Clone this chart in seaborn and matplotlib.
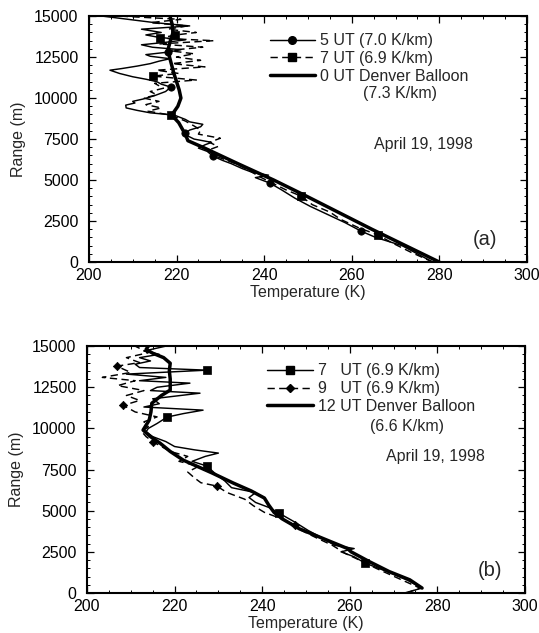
import pandas as pd
import seaborn as sns
import matplotlib
matplotlib.use("Agg")
import matplotlib.pyplot as plt
from matplotlib.lines import Line2D
from matplotlib.ticker import MultipleLocator

# ---------------- Panel (a): April 19, 1998 ----------------
a_balloon_R = [0, 1000, 2000, 3000, 4000, 5000, 6000, 7000, 7400, 7600, 7930, 8500,
               8960, 9500, 10000, 10500, 11000, 11500, 12000, 12500, 13000, 13500,
               14000, 14500, 15000]
a_balloon_T = [280, 272.3, 264.6, 257.2, 249.8, 242.2, 234, 226, 222.6, 222.3, 221.7,
               220.5, 218.9, 220.3, 221, 220.6, 220, 219.4, 218.9, 218.4, 218.1,
               218.6, 219.2, 219, 218.5]

a_ut5_R = [0, 500, 1000, 1500, 1890, 2400, 2900, 3400, 3900, 4400, 4817, 5150, 5300,
           5450, 5700, 6000, 6200, 6460, 6750, 6950, 7150, 7300, 7500, 7700, 7860,
           8050, 8250, 8400, 8550, 8700, 8960, 9100, 9250, 9400, 9570, 9700, 9800,
           9950, 10150, 10400, 10670, 10850, 11000, 11150, 11300, 11500, 11700,
           11800, 11950, 12100, 12250, 12400, 12550, 12650, 12800, 12950, 13100,
           13250, 13400, 13550, 13700, 13850, 14000, 14200, 14400, 14600, 14800,
           15000]
a_ut5_T = [278.5, 275, 271.5, 265.5, 262.1, 258.5, 254.5, 250.5, 247, 244, 241.3,
           238, 241, 237.5, 235, 232.5, 230.5, 228.3, 227, 225, 226.5, 228, 224,
           222.5, 222, 223, 225.5, 226, 223, 222, 219.5, 214, 211, 208.5, 208.4,
           210.5, 210, 212.5, 215, 217.5, 218.7, 216.5, 215.5, 213, 210, 207, 204.8,
           207.5, 211, 214, 216, 218.5, 214, 213, 218, 221, 214.5, 212, 217.5, 222,
           216, 213, 216.5, 212, 223, 215, 209, 203]
a_ut5_marks = [1890, 4817, 6460, 7860, 10670, 12800]

a_ut7_R = [0, 600, 1200, 1650, 2100, 2600, 3050, 3500, 4024, 4400, 4800, 5200, 5600,
           6000, 6400, 6800, 7050, 7300, 7550, 7800, 8050, 8300, 8600, 8960, 9200,
           9400, 9600, 9800, 10000, 10200, 10400, 10600, 10900, 11100, 11340, 11500,
           11700, 11900, 12100, 12300, 12500, 12700, 12900, 13100, 13300, 13500,
           13650, 13840, 14000, 14200, 14400, 14600, 14800, 15000]
a_ut7_T = [278.5, 273.5, 269, 266, 261.5, 257.5, 255, 251, 248.4, 245, 242, 239,
           236.5, 233.5, 229.5, 227, 229.5, 227.5, 230, 225, 225.5, 224, 222, 218.7,
           213.5, 216.5, 213, 216, 212.5, 215.5, 214, 217, 215, 224.5, 214.6, 220.5,
           215.5, 226.5, 219, 225.5, 220, 224, 218, 226, 216, 228.5, 216.2, 219.6,
           224.5, 218, 222.5, 214, 221, 207]
a_ut7_marks = [1650, 4024, 8960, 11340, 13650, 13840]

# ---------------- Panel (b): April 19, 1998 ----------------
b_balloon_R = [300, 800, 1300, 1900, 2500, 2700, 3300, 3900, 4500, 4900, 5340, 5770,
               6200, 6680, 7300, 8070, 8600, 9100, 9500, 9900, 10500, 11000, 11530,
               12000, 12330, 13000, 13500, 13960, 14300, 14570, 14800, 15000]
b_balloon_T = [276.5, 273.7, 269, 264.5, 260.3, 259.5, 254, 248.5, 244.6, 242.7,
               241.5, 240.5, 237.5, 233.4, 228.5, 222, 219, 216.7, 214.5, 212.8,
               214.2, 214.6, 214.8, 217, 219, 219, 218.8, 219, 217.5, 215, 213.5, 214]

b_ut7_R = [0, 300, 800, 1300, 1820, 2200, 2500, 2700, 2900, 3300, 3800, 4300, 4860,
           5200, 5500, 5800, 6100, 6400, 6800, 7200, 7710, 8000, 8300, 8500, 8700,
           8900, 9200, 9500, 9800, 10000, 10300, 10690, 10900, 11110, 11300, 11500,
           11800, 12140, 12300, 12500, 12750, 12900, 13100, 13300, 13540, 13700,
           13900, 14100, 14300, 14500, 14700, 15000]
b_ut7_T = [272.5, 276.5, 273, 268.5, 263.5, 261, 258, 261, 256.5, 254, 250.5, 247.5,
           243.8, 241.5, 238.5, 237, 238.5, 233, 231.5, 229.5, 227.4, 224, 227, 230,
           224.5, 220, 218, 215, 213.5, 214, 216, 218.3, 222, 226.5, 213, 216.5, 215,
           225.8, 214.5, 216, 223.5, 212, 218, 209, 227.4, 212, 211, 214.5, 212,
           216.5, 213, 218]
b_ut7_marks = [1820, 4860, 7710, 10690, 13540]

b_ut9_R = [0, 300, 900, 1500, 1900, 2400, 2900, 3400, 3800, 4130, 4500, 4900, 5300,
           5700, 6100, 6500, 6700, 7000, 7350, 7700, 8000, 8300, 8600, 8900, 9200,
           9500, 9800, 10100, 10400, 10700, 11000, 11400, 11700, 12000, 12300, 12600,
           12900, 13100, 13400, 13780, 14000, 14300, 14600, 15000]
b_ut9_T = [273, 276, 271, 266, 263, 259, 256, 252, 249, 247.5, 244.5, 240.5, 238,
           236, 232, 229.6, 226, 224.5, 223, 225.5, 221, 223, 219, 217, 215, 213.5,
           212.5, 214, 213, 216, 211, 208.3, 212, 209, 213, 207, 211, 203.5, 210,
           206.8, 212, 209, 214, 211]
b_ut9_marks = [4130, 6500, 9200, 11400, 13780]

a_labels = ["5 UT (7.0 K/km)", "7 UT (6.9 K/km)", "0 UT Denver Balloon"]
a_rate_note = "(7.3 K/km)"
b_labels = ["7   UT (6.9 K/km)", "9   UT (6.9 K/km)", "12 UT Denver Balloon"]
b_rate_note = "(6.6 K/km)"
date_text = "April 19, 1998"

sns.set_theme(style="ticks")
plt.rcParams["font.family"] = ["Liberation Sans", "DejaVu Sans"]
FS = 11.5

THIN = 1.05
THICK = 2.5
DASH = (0, (5, 3))


def profile(ax, T, R, lw, ls="-"):
    df = pd.DataFrame({"T": T, "R": R})
    sns.lineplot(data=df, x="T", y="R", sort=False, estimator=None, color="black",
                 lw=lw, linestyle=ls, ax=ax)
    return df


def marks(ax, df, which, marker, size):
    sub = df[df["R"].isin(which)]
    sns.scatterplot(data=sub, x="T", y="R", marker=marker, s=size, color="black",
                    edgecolor="black", linewidth=0.5, ax=ax, zorder=5)


def style_axes(ax):
    ax.set_xlim(200, 300)
    ax.set_ylim(0, 15000)
    ax.xaxis.set_major_locator(MultipleLocator(20))
    ax.xaxis.set_minor_locator(MultipleLocator(5))
    ax.yaxis.set_major_locator(MultipleLocator(2500))
    ax.yaxis.set_minor_locator(MultipleLocator(500))
    ax.tick_params(which="both", direction="in", top=True, right=True,
                   colors="black", labelsize=FS)
    ax.tick_params(which="major", length=5, width=0.9)
    ax.tick_params(which="minor", length=2.5, width=0.7)
    ax.tick_params(axis="x", pad=4.5)
    ax.tick_params(axis="y", pad=7.5)
    for s in ax.spines.values():
        s.set_visible(True)
        s.set_linewidth(1.5)
        s.set_color("black")
    ax.set_xlabel("Temperature (K)", fontsize=FS, labelpad=1)
    ax.set_ylabel("Range (m)", fontsize=FS, labelpad=6)


fig = plt.figure(figsize=(5.39, 6.33), dpi=100)
ax_a = fig.add_axes([0.165, 0.586, 0.8126, 0.3886])
ax_b = fig.add_axes([0.1614, 0.0632, 0.8126, 0.390])

# ---- panel (a) ----
df5 = profile(ax_a, a_ut5_T, a_ut5_R, THIN)
df7 = profile(ax_a, a_ut7_T, a_ut7_R, THIN, DASH)
profile(ax_a, a_balloon_T, a_balloon_R, THICK)
marks(ax_a, df5, a_ut5_marks, "o", 28)
marks(ax_a, df7, a_ut7_marks, "s", 40)
style_axes(ax_a)

h_a = [Line2D([], [], color="black", lw=THIN, marker="o", markersize=5.5),
       Line2D([], [], color="black", lw=THIN, ls=DASH, marker="s", markersize=6),
       Line2D([], [], color="black", lw=THICK)]
ax_a.legend(h_a, a_labels, loc="upper left", bbox_to_anchor=(0.413, 0.93),
            frameon=False, fontsize=FS, handlelength=2.8, handletextpad=0.35,
            labelspacing=0.17, borderpad=0, borderaxespad=0, numpoints=1)
ax_a.text(0.71, 0.687, a_rate_note, transform=ax_a.transAxes, ha="center",
          va="center", fontsize=FS)
ax_a.text(0.764, 0.476, date_text, transform=ax_a.transAxes, ha="center",
          va="center", fontsize=FS)
ax_a.text(0.904, 0.093, "(a)", transform=ax_a.transAxes, ha="center",
          va="center", fontsize=14.5)

# ---- panel (b) ----
db7 = profile(ax_b, b_ut7_T, b_ut7_R, THIN)
db9 = profile(ax_b, b_ut9_T, b_ut9_R, THIN, DASH)
profile(ax_b, b_balloon_T, b_balloon_R, THICK)
marks(ax_b, db7, b_ut7_marks, "s", 40)
marks(ax_b, db9, b_ut9_marks, "D", 18)
style_axes(ax_b)

h_b = [Line2D([], [], color="black", lw=THIN, marker="s", markersize=6),
       Line2D([], [], color="black", lw=THIN, ls=DASH, marker="D", markersize=4),
       Line2D([], [], color="black", lw=THICK)]
ax_b.legend(h_b, b_labels, loc="upper left", bbox_to_anchor=(0.411, 0.93),
            frameon=False, fontsize=FS, handlelength=2.9, handletextpad=0.3,
            labelspacing=0.17, borderpad=0, borderaxespad=0, numpoints=1)
ax_b.text(0.731, 0.676, b_rate_note, transform=ax_b.transAxes, ha="center",
          va="center", fontsize=FS)
ax_b.text(0.795, 0.551, date_text, transform=ax_b.transAxes, ha="center",
          va="center", fontsize=FS)
ax_b.text(0.919, 0.093, "(b)", transform=ax_b.transAxes, ha="center",
          va="center", fontsize=14.5)

fig.savefig("out.png", dpi=100)
